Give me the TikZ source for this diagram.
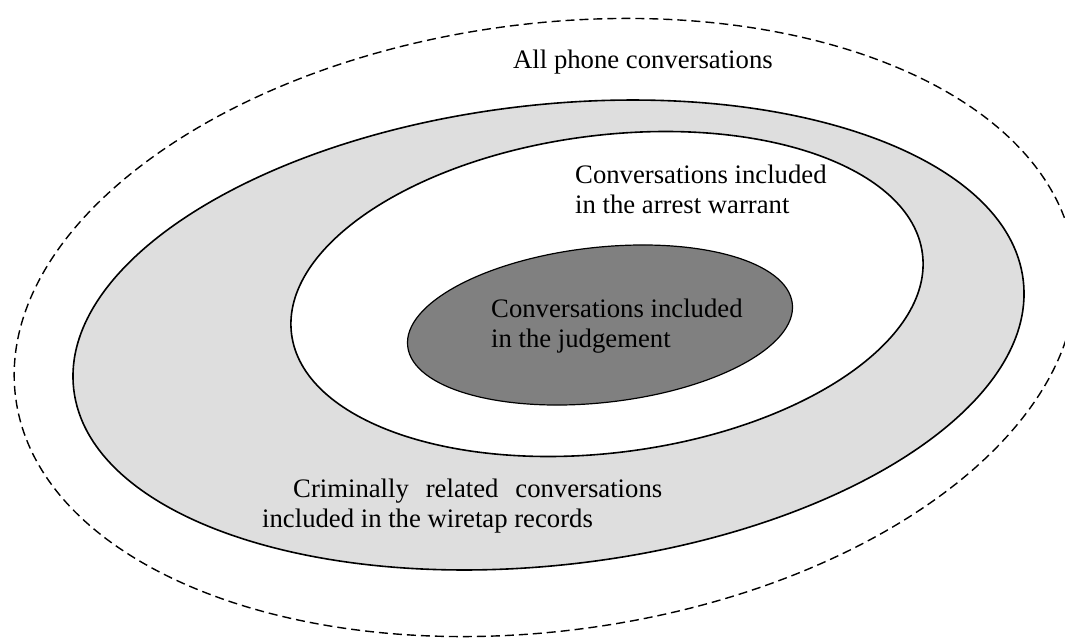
\documentclass[tikz,border=0pt]{standalone}
\usepackage{fontspec}
\setmainfont{Liberation Serif}

\definecolor{recordgray}{gray}{0.87}
\definecolor{judgementgray}{gray}{0.5}

\tikzset{
  setedge/.style={line width=1.6pt},
  setlabel/.style={anchor=base west, align=left, inner sep=0pt,
    font=\fontsize{26.7}{30}\selectfont}
}

\begin{document}
\begin{tikzpicture}[x=1pt,y=-1pt]

\useasboundingbox
(0,0)
rectangle
(1065,637);

% Toutes les conversations
\draw[dash pattern=on 9pt off 5pt, line width=1.4pt,
  rotate around={7.6:(545,327.5)}]
(545,327.5)
ellipse
(534 and 303.5);

% Ecoutes
\draw[setedge, fill=recordgray,
  rotate around={6.5:(548.5,335)}]
(548.5,335)
ellipse
(477.9 and 230.1);

% Mandat d'arret
\draw[setedge, fill=white,
  rotate around={7.25:(607,294)}]
(607,294)
ellipse
(318 and 158.7);

% Jugement
\draw[line width=1.2pt, fill=judgementgray,
  rotate around={6.3:(600,325)}]
(600,325)
ellipse
(193.5 and 77.6);

% base = derniere ligne
\node[setlabel] (allcalls) at (513,68)
{All phone conversations};

\node[setlabel] (warrant) at (575,213)
{Conversations included\\in the arrest warrant};

\node[setlabel] (judgement) at (491,347)
{Conversations included\\in the judgement};

\node[setlabel] (records) at (262,527)
{\hspace*{31pt}\makebox[369pt][s]{Criminally related conversations}\\included in the wiretap records};

\end{tikzpicture}
\end{document}
